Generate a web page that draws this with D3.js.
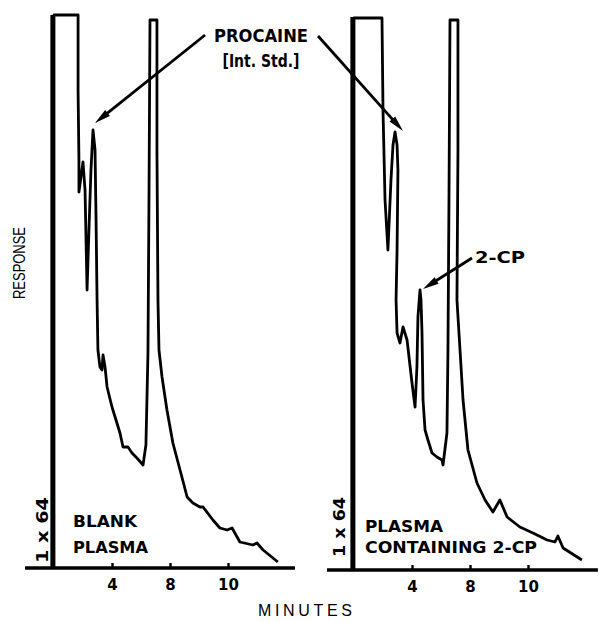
<!DOCTYPE html>
<html><head><meta charset="utf-8">
<script src="https://cdn.jsdelivr.net/npm/d3@7"></script>
<style>body{margin:0;background:#fff}svg{display:block}</style>
</head><body><svg id="c" width="599" height="622"></svg>
<script>
// ---- data (minutes as printed on the time axis, response in % of full scale) ----
const tickMinutes = [4, 8, 10];
const tickLabels = ["4", "8", "10"];

const blankTime = [0, 0, 1.66, 1.66, 1.72, 1.72, 2.0, 2.14, 2.28, 2.41, 2.55, 2.69, 2.83, 2.90, 2.97, 3.03, 3.17, 3.31, 3.38, 3.52, 3.66, 4.0, 4.34, 4.55, 4.76, 5.10, 5.38, 5.72, 6.14, 6.34, 6.48, 6.55, 6.62, 7.10, 7.10, 7.17, 7.24, 7.45, 7.79, 8.10, 8.41, 8.59, 8.79, 9.03, 9.14, 9.48, 9.72, 9.97, 10.14, 10.41, 10.86, 11.0, 11.21, 11.72];
const blankResp = [0, 110.6, 110.6, 95.6, 81.6, 75.2, 81.2, 75.6, 55.6, 67.6, 79.6, 87.6, 83.6, 69.6, 53.6, 43.6, 40.2, 39.6, 42.6, 40.2, 36.2, 32.2, 29.0, 27.0, 24.2, 24.2, 23.0, 22.0, 20.6, 24.6, 43.0, 73.6, 109.6, 109.6, 83.6, 53.6, 43.6, 38.2, 31.6, 25.0, 18.2, 14.2, 13.0, 12.2, 12.2, 9.6, 8.0, 7.6, 8.0, 5.2, 4.6, 5.0, 3.6, 1.2];

const spikedTime = [0, 0, 1.93, 2.0, 2.14, 2.34, 2.55, 2.69, 2.83, 2.97, 3.03, 2.97, 2.90, 2.97, 3.17, 3.38, 3.66, 4.0, 4.21, 4.34, 4.41, 4.55, 4.62, 4.69, 4.76, 4.90, 5.10, 5.38, 5.72, 6.07, 6.14, 6.41, 6.48, 6.55, 6.62, 7.17, 7.17, 7.10, 7.24, 7.52, 7.86, 8.24, 8.52, 8.79, 9.03, 9.28, 9.72, 10.17, 10.66, 10.93, 11.03, 11.21, 11.86];
const spikedResp = [0, 110.4, 110.4, 92.0, 74.0, 64.0, 78.0, 85.0, 87.6, 85.0, 80.0, 64.0, 54.0, 47.4, 45.4, 48.6, 46.0, 37.4, 32.6, 40.6, 50.6, 56.0, 54.0, 47.4, 34.0, 28.0, 26.0, 23.4, 22.6, 22.0, 21.0, 27.4, 44.0, 74.0, 110.0, 110.0, 84.0, 54.0, 47.4, 34.0, 24.0, 17.4, 14.0, 11.6, 14.0, 10.6, 8.6, 7.4, 6.0, 5.6, 6.8, 4.4, 2.0];

const panelTitles = [["BLANK", "PLASMA"], ["PLASMA", "CONTAINING  2-CP"]];
const attenuation = "1 x 64";
const peakLabels = [["PROCAINE", "[Int. Std.]"], ["2-CP"]];
// arrow tail/tip in [minutes, response] of the panel they point into
const arrowBlank = {tail: [9.21, 106.6], tip: [2.83, 89.0]};
const arrowSpiked = [{tail: [-2.48, 106.8], tip: [3.38, 87.8]}, {tail: [8.07, 62.4], tip: [4.76, 56.2]}];

// ---- drawing ----
const svg = d3.select("#c");
const FONT = "'Liberation Sans', Arial, sans-serif";
const BOLD = "'DejaVu Sans', 'Liberation Sans', sans-serif";
const x = d3.scaleLinear().domain([0, 4, 8, 10]).range([54, 112, 170, 228]);
const y = d3.scaleLinear().domain([0, 100]).range([568, 68]);
const line = d3.line().x(d => x(d[0])).y(d => y(d[1]));

function arrow(g, a) {
  const x1 = x(a.tail[0]), y1 = y(a.tail[1]), x2 = x(a.tip[0]), y2 = y(a.tip[1]);
  const ang = Math.atan2(y2 - y1, x2 - x1), L = 16, W = 3.8;
  const bx = x2 - L * Math.cos(ang), by = y2 - L * Math.sin(ang);
  g.append("line").attr("x1", x1).attr("y1", y1).attr("x2", bx + 3 * Math.cos(ang)).attr("y2", by + 3 * Math.sin(ang))
    .attr("stroke", "#000").attr("stroke-width", 2.8);
  const px = -Math.sin(ang), py = Math.cos(ang);
  g.append("path").attr("d", `M${x2},${y2}L${bx + W * px},${by + W * py}L${bx - W * px},${by - W * py}Z`).attr("fill", "#000");
}

function panel(dx, dy, times, resp, tStart, tEnd) {
  const g = svg.append("g").attr("transform", `translate(${dx},${dy})`);
  g.append("line").attr("x1", x(tStart)).attr("x2", x(tEnd)).attr("y1", y(0)).attr("y2", y(0))
    .attr("stroke", "#000").attr("stroke-width", 3.4);
  g.append("line").attr("x1", x(-0.14)).attr("x2", x(-0.14)).attr("y1", y(0) + 1).attr("y2", y(110.6))
    .attr("stroke", "#000").attr("stroke-width", 3.2);
  const ax = d3.axisBottom(x).tickValues(tickMinutes).tickFormat((d, i) => tickLabels[i]).tickSize(-5).tickPadding(11);
  const axg = g.append("g").attr("transform", `translate(0,${y(0)})`).call(ax);
  axg.select(".domain").remove();
  axg.selectAll(".tick line").attr("stroke", "#000").attr("stroke-width", 2.4);
  axg.selectAll(".tick text").attr("font-family", BOLD).attr("font-size", 15).attr("font-weight", "bold").attr("fill", "#000");
  g.append("path").datum(times.map((t, i) => [t, resp[i]])).attr("d", line)
    .attr("fill", "none").attr("stroke", "#000").attr("stroke-width", 2.8).attr("stroke-linejoin", "round");
  return g;
}

const g1 = panel(0, 0, blankTime, blankResp, -2.0, 12.31);
const g2 = panel(300, 2, spikedTime, spikedResp, -1.86, 12.41);

function boldText(g, txt, tx, ty, size, len, anchor) {
  const t = g.append("text").attr("x", tx).attr("y", ty).attr("font-family", BOLD).attr("font-size", size)
    .attr("font-weight", "bold").attr("fill", "#000").attr("text-anchor", anchor || "start").text(txt);
  if (len) t.attr("textLength", len).attr("lengthAdjust", "spacingAndGlyphs");
  return t;
}

boldText(svg, panelTitles[0][0], 73, 527, 16, 64);
boldText(svg, panelTitles[0][1], 73, 553, 16, 75);
boldText(svg, panelTitles[1][0], 365, 532, 16, 78);
boldText(svg, panelTitles[1][1], 365, 553, 16, 172);

[[48, 530, 66], [345, 527, 60]].forEach(([ax_, ay, len]) => {
  svg.append("text").attr("transform", `translate(${ax_},${ay}) rotate(-90)`).attr("text-anchor", "middle")
    .attr("font-family", BOLD).attr("font-size", 16).attr("font-weight", "bold").attr("fill", "#000")
    .attr("textLength", len).attr("lengthAdjust", "spacingAndGlyphs").text(attenuation);
});

boldText(svg, peakLabels[0][0], 261, 42, 17, 94, "middle");
boldText(svg, peakLabels[0][1], 261, 67, 17, 77, "middle");
boldText(svg, peakLabels[1][0], 475, 263, 16, 50);

arrow(g1, arrowBlank);
arrow(g2, arrowSpiked[0]);
arrow(g2, arrowSpiked[1]);

svg.append("text").attr("transform", "translate(25,263) rotate(-90)").attr("text-anchor", "middle")
  .attr("font-family", FONT).attr("font-size", 17).attr("fill", "#000")
  .attr("textLength", 72).attr("lengthAdjust", "spacingAndGlyphs").text("RESPONSE");
svg.append("text").attr("x", 305).attr("y", 616).attr("text-anchor", "middle")
  .attr("font-family", FONT).attr("font-size", 16).attr("fill", "#000")
  .attr("textLength", 94).attr("lengthAdjust", "spacing").text("MINUTES");
</script></body></html>
